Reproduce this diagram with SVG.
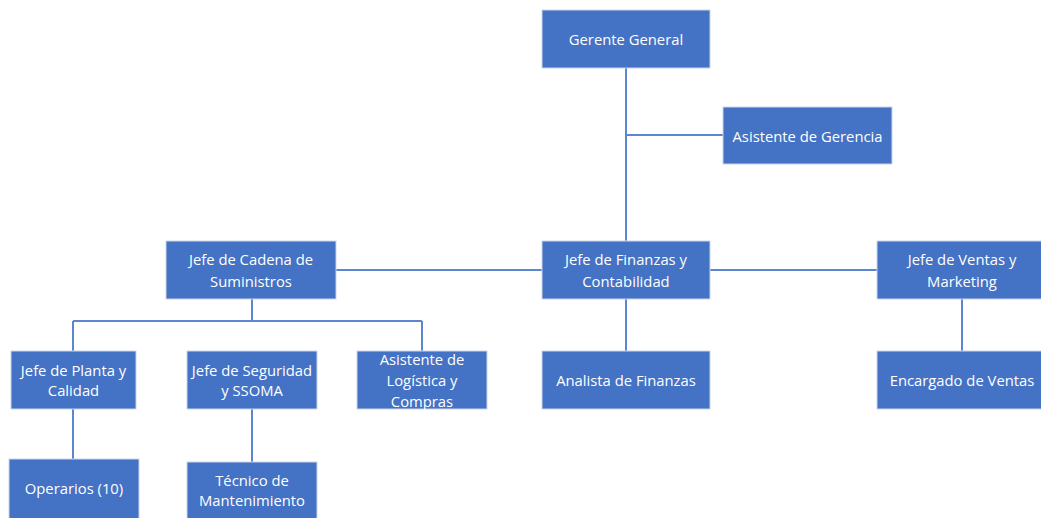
<svg xmlns="http://www.w3.org/2000/svg" width="1041" height="518" viewBox="0 0 1041 518">
<style>
.box{fill:#4472C4;stroke:#C9D5EE;stroke-width:1}
.t{fill:#FFFFFF;font-family:"Open Sans","Liberation Sans",sans-serif;font-size:14.8px;text-anchor:middle;dominant-baseline:central}
.ln{stroke:#5B86D3;stroke-width:2;fill:none}
</style>
<rect width="1041" height="518" fill="#FFFFFF"/>
<g id="connectors">
<path class="ln" d="M626 68V241M626 135H723M336 270H542M710 270H877M626 299V351M962 299V351M252 299V321M73 321H422M73 321V351M422 321V351M73 409V459M252 409V462"/>
</g>
<g id="gerente"><rect class="box" x="542" y="10" width="168" height="58"/><text class="t" x="626" y="39">Gerente General</text></g>
<g id="asistente-gerencia"><rect class="box" x="723" y="107" width="169" height="57"/><text class="t" x="807.5" y="135.5">Asistente de Gerencia</text></g>
<g id="cadena"><rect class="box" x="166" y="241" width="170" height="58"/><text class="t" x="251" y="259">Jefe de Cadena de</text><text class="t" x="251" y="281">Suministros</text></g>
<g id="finanzas"><rect class="box" x="542" y="241" width="168" height="58"/><text class="t" x="626" y="259">Jefe de Finanzas y</text><text class="t" x="626" y="281">Contabilidad</text></g>
<g id="ventas"><rect class="box" x="877" y="241" width="170" height="58"/><text class="t" x="962" y="259">Jefe de Ventas y</text><text class="t" x="962" y="281">Marketing</text></g>
<g id="planta"><rect class="box" x="11" y="351" width="125" height="58"/><text class="t" x="73.5" y="370">Jefe de Planta y</text><text class="t" x="73.5" y="390">Calidad</text></g>
<g id="seguridad"><rect class="box" x="187" y="351" width="130" height="58"/><text class="t" x="252" y="370">Jefe de Seguridad</text><text class="t" x="252" y="390">y SSOMA</text></g>
<g id="logistica"><rect class="box" x="357" y="351" width="130" height="58"/><text class="t" x="422" y="359">Asistente de</text><text class="t" x="422" y="380">Logística y</text><text class="t" x="422" y="401">Compras</text></g>
<g id="analista"><rect class="box" x="542" y="351" width="168" height="58"/><text class="t" x="626" y="380">Analista de Finanzas</text></g>
<g id="encargado"><rect class="box" x="877" y="351" width="170" height="58"/><text class="t" x="962" y="380">Encargado de Ventas</text></g>
<g id="operarios"><rect class="box" x="9" y="459" width="130" height="62"/><text class="t" x="74" y="488">Operarios (10)</text></g>
<g id="tecnico"><rect class="box" x="187" y="462" width="130" height="59"/><text class="t" x="252" y="480">Técnico de</text><text class="t" x="252" y="500">Mantenimiento</text></g>
</svg>
